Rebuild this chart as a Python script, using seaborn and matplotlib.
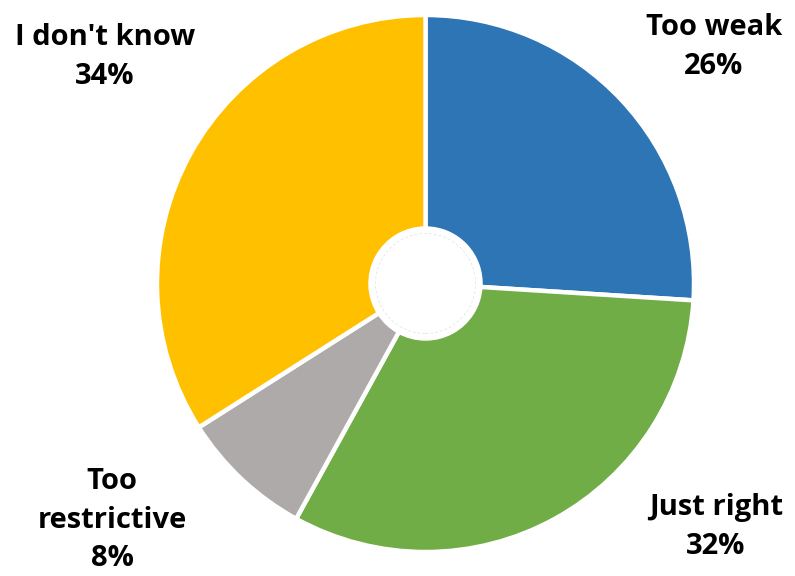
import matplotlib
matplotlib.use("Agg")
import matplotlib.pyplot as plt
import seaborn as sns
from matplotlib.patches import Circle

categories = ["Too weak", "Just right", "Too\nrestrictive", "I don't know"]
shares = [26, 32, 8, 34]
colors = ["#2E75B6", "#70AD47", "#AEAAAA", "#FFC000"]

# label anchor positions (figure pixel space, y measured upward)
label_xy = [(714, 529), (716, 49), (112, 56), (105, 519)]

sns.set_theme(style="white")
plt.rcParams["font.family"] = ["Open Sans", "DejaVu Sans"]

W, H = 795, 576
fig = plt.figure(figsize=(W / 100, H / 100), dpi=100)
ax = fig.add_axes([0, 0, 1, 1])

cx, cy, r = 425.5, 292.5, 268.5
hole = 55

wedges, _ = ax.pie(
    shares,
    colors=sns.color_palette(colors),
    startangle=90,
    counterclock=False,
    center=(cx, cy),
    radius=r,
    wedgeprops=dict(width=r - hole, edgecolor="white", linewidth=3.2),
    frame=True,
)
ax.set_xlim(0, W)
ax.set_ylim(0, H)
ax.set_aspect("equal")
ax.axis("off")

# faint guide ring inside the hole
ax.add_patch(Circle((cx, cy), hole - 5, fill=False, ec="#d4d4d4", lw=0.5,
                    ls=(0, (4, 3)), alpha=0.7))

for cat, val, (x, y) in zip(categories, shares, label_xy):
    ax.text(x, y, f"{cat}\n{val}%", ha="center", va="center",
            fontsize=21, fontweight="bold", color="black", linespacing=1.45)

fig.savefig("out.png", dpi=100)
